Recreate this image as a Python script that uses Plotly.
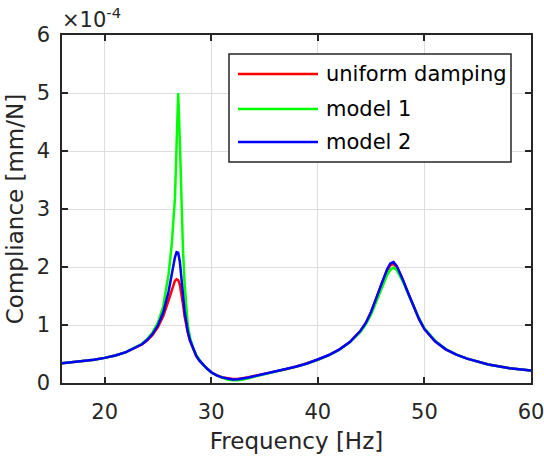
import plotly.graph_objects as go

# Frequency axis samples [Hz]
freq = [16, 17, 18, 19, 20, 21, 22, 23, 23.5, 24, 24.5, 25, 25.5, 26, 26.3, 26.45,
        26.6, 26.75, 26.9, 27.05, 27.2, 27.35, 27.5, 27.65, 27.8, 28.0, 28.3, 28.6,
        28.9, 29.2, 29.6, 30, 30.5, 31, 31.5, 32, 32.5, 33, 33.5, 34, 35, 36, 37, 38,
        39, 40, 41, 42, 43, 44, 44.5, 45, 45.5, 46, 46.5, 46.8, 47.1, 47.4, 47.7, 48,
        48.5, 49, 49.5, 50, 51, 52, 53, 54, 55, 56, 58, 60]

# Compliance in units of 1e-4 mm/N
uniform_damping = [0.340, 0.356, 0.376, 0.401, 0.433, 0.475, 0.533, 0.612, 0.663, 0.735,
                   0.830, 0.964, 1.155, 1.427, 1.618, 1.710, 1.765, 1.790, 1.775, 1.700,
                   1.560, 1.360, 1.150, 0.990, 0.870, 0.730, 0.580, 0.465, 0.385, 0.320,
                   0.250, 0.185, 0.135, 0.100, 0.079, 0.069, 0.071, 0.082, 0.099, 0.120,
                   0.157, 0.195, 0.238, 0.285, 0.338, 0.401, 0.479, 0.575, 0.705, 0.895,
                   1.030, 1.220, 1.460, 1.720, 1.940, 2.030, 2.055, 2.000, 1.890, 1.760,
                   1.530, 1.310, 1.100, 0.930, 0.720, 0.580, 0.490, 0.420, 0.365, 0.320,
                   0.255, 0.215]

model_1 = [0.340, 0.356, 0.376, 0.401, 0.433, 0.475, 0.533, 0.620, 0.676, 0.760,
           0.872, 1.041, 1.323, 1.875, 2.400, 2.800, 3.200, 4.100, 5.000, 4.200,
           3.100, 2.300, 1.720, 1.280, 1.000, 0.790, 0.600, 0.478, 0.390, 0.322,
           0.250, 0.185, 0.130, 0.090, 0.060, 0.048, 0.047, 0.062, 0.083, 0.108,
           0.151, 0.190, 0.234, 0.282, 0.336, 0.399, 0.476, 0.570, 0.700, 0.880,
           1.010, 1.180, 1.410, 1.650, 1.860, 1.950, 1.990, 1.950, 1.860, 1.745,
           1.530, 1.320, 1.110, 0.945, 0.730, 0.585, 0.490, 0.420, 0.365, 0.320,
           0.255, 0.215]

model_2 = [0.340, 0.356, 0.376, 0.401, 0.433, 0.475, 0.533, 0.616, 0.668, 0.745,
           0.848, 0.995, 1.219, 1.577, 1.875, 2.040, 2.170, 2.255, 2.245, 2.100,
           1.860, 1.530, 1.240, 1.030, 0.890, 0.740, 0.585, 0.468, 0.386, 0.320,
           0.250, 0.185, 0.133, 0.097, 0.073, 0.062, 0.064, 0.076, 0.094, 0.116,
           0.155, 0.193, 0.237, 0.284, 0.337, 0.401, 0.478, 0.576, 0.707, 0.900,
           1.035, 1.230, 1.470, 1.730, 1.960, 2.060, 2.085, 2.020, 1.900, 1.770,
           1.540, 1.315, 1.100, 0.930, 0.720, 0.580, 0.490, 0.420, 0.365, 0.320,
           0.255, 0.215]

series_names = ["uniform damping", "model 1", "model 2"]
series_colors = ["#ff0000", "#00ff00", "#0000ff"]
x_ticks = [20, 30, 40, 50, 60]
y_ticks = [0, 1, 2, 3, 4, 5, 6]

W, H = 544, 457
ML, MR, MT, MB = 62, 13, 35, 74
AX = "#262626"
FONT = "DejaVu Sans"


def px_x(p):
    return (p - ML) / (W - ML - MR)


def px_y(p):
    return (H - MB - p) / (H - MT - MB)


fig = go.Figure()
for name, vals, col in zip(series_names, [uniform_damping, model_1, model_2], series_colors):
    fig.add_trace(go.Scatter(x=freq, y=vals, mode="lines", name=name,
                             line=dict(color=col, width=2.5), showlegend=False))

axis_common = dict(showline=True, linecolor=AX, linewidth=1.5, mirror="ticks",
                   ticks="inside", ticklen=6, tickwidth=1.5, tickcolor=AX,
                   showgrid=True, gridcolor="#dedede", gridwidth=1, automargin=False,
                   ticklabeloverflow="allow",
                   zeroline=False, tickfont=dict(family=FONT, size=21, color=AX))

fig.update_xaxes(range=[16, 60], tickvals=x_ticks, ticklabelstandoff=9,
                 title=dict(text="Frequency [Hz]", font=dict(family=FONT, size=23, color=AX),
                            standoff=10),
                 **axis_common)
fig.update_yaxes(range=[0, 6], tickvals=y_ticks, ticklabelstandoff=6,
                 title=dict(text="Compliance [mm/N]", font=dict(family=FONT, size=23, color=AX),
                            standoff=7),
                 **axis_common)

# Legend box drawn with shapes and text
shapes = [dict(type="rect", xref="paper", yref="paper",
               x0=px_x(229), x1=px_x(511), y0=px_y(162), y1=px_y(54),
               line=dict(color=AX, width=1.5), fillcolor="white", layer="above")]
annotations = []
for i, (name, col) in enumerate(zip(series_names, series_colors)):
    yy = [74, 109, 142][i]
    shapes.append(dict(type="line", xref="paper", yref="paper",
                       x0=px_x(238), x1=px_x(318), y0=px_y(yy), y1=px_y(yy),
                       line=dict(color=col, width=2.5), layer="above"))
    annotations.append(dict(text=name, xref="paper", yref="paper",
                            x=px_x(324), y=px_y(yy), xanchor="left", yanchor="middle",
                            showarrow=False, font=dict(family=FONT, size=21, color="#000000")))

annotations.append(dict(text="×10<sup>-4</sup>", xref="paper", yref="paper",
                        x=px_x(60), y=px_y(34), xanchor="left", yanchor="bottom",
                        showarrow=False, font=dict(family=FONT, size=21, color=AX)))

fig.update_layout(width=W, height=H, margin=dict(l=ML, r=MR, t=MT, b=MB),
                  paper_bgcolor="white", plot_bgcolor="white",
                  shapes=shapes, annotations=annotations, showlegend=False)

fig.write_html("out.html")
